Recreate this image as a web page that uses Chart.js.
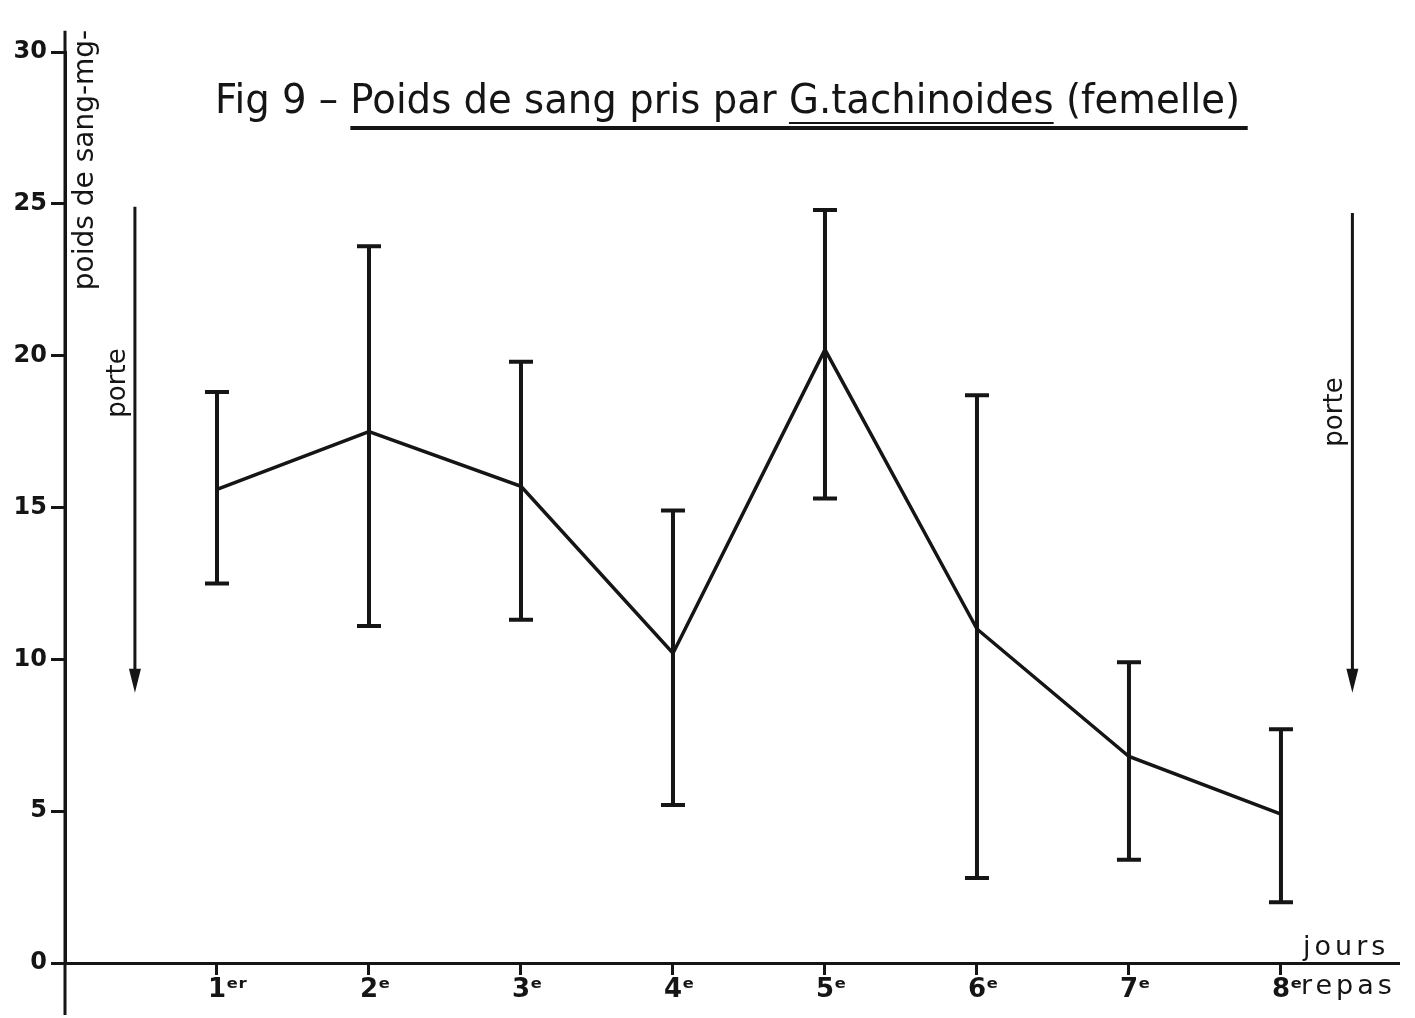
<!DOCTYPE html>
<html>
<head>
<meta charset="utf-8">
<title>Fig 9 - Poids de sang pris par G.tachinoides (femelle)</title>
<script src="https://cdn.jsdelivr.net/npm/chart.js@4"></script>
<style>
  html, body { margin: 0; padding: 0; background: #fff; }
  #wrap { width: 1415px; height: 1018px; position: relative; }
</style>
</head>
<body>
<div id="wrap"><canvas id="bloodChart"></canvas></div>
<script>
// feeds (repas) 1 to 8
const days = [1, 2, 3, 4, 5, 6, 7, 8];
const dayLabels = ['1ᵉʳ', '2ᵉ', '3ᵉ', '4ᵉ', '5ᵉ', '6ᵉ', '7ᵉ', '8ᵉ'];
// blood weight taken, mg: mean and ends of the range
const meanWeight = [15.6, 17.5, 15.7, 10.2, 20.2, 11.0, 6.8, 4.9];
const upperWeight = [18.8, 23.6, 19.8, 14.9, 24.8, 18.7, 9.9, 7.7];
const lowerWeight = [12.5, 11.1, 11.3, 5.2, 15.3, 2.8, 3.4, 2.0];
const yTicks = [0, 5, 10, 15, 20, 25, 30];
// "porte" (laying) arrows, before the 1st and after the 8th feed
const porteX = [0.46, 8.47];
const porteFrom = [24.9, 24.7];
const porteTo = [8.9, 8.9];

const ink = '#151515';
const FONT = '"DejaVu Sans", "Liberation Sans", sans-serif';

const titleParts = ['Fig 9 – ', 'Poids de sang pris par ', 'G.tachinoides', ' (femelle)'];

// error bars, arrows and the hand lettering
const drawingPlugin = {
    id: 'drawing',
    afterDraw(chart) {
        const { ctx, chartArea, scales: { x, y } } = chart;
        ctx.save();
        ctx.strokeStyle = ink;
        ctx.fillStyle = ink;

        // y axis line runs past the plot area
        ctx.lineWidth = 3;
        ctx.beginPath();
        ctx.moveTo(chartArea.left, y.getPixelForValue(30.7));
        ctx.lineTo(chartArea.left, chartArea.bottom + 52);
        ctx.stroke();

        // error bars
        ctx.lineWidth = 4;
        days.forEach((d, i) => {
            const px = x.getPixelForValue(d);
            const top = y.getPixelForValue(upperWeight[i]);
            const bot = y.getPixelForValue(lowerWeight[i]);
            ctx.beginPath();
            ctx.moveTo(px, top); ctx.lineTo(px, bot);
            ctx.moveTo(px - 12, top); ctx.lineTo(px + 12, top);
            ctx.moveTo(px - 12, bot); ctx.lineTo(px + 12, bot);
            ctx.stroke();
        });

        // porte arrows
        porteX.forEach((v, i) => {
            const px = x.getPixelForValue(v);
            const top = y.getPixelForValue(porteFrom[i]);
            const tip = y.getPixelForValue(porteTo[i]);
            ctx.lineWidth = 3;
            ctx.beginPath();
            ctx.moveTo(px, top); ctx.lineTo(px, tip - 12);
            ctx.stroke();
            ctx.beginPath();
            ctx.moveTo(px - 6, tip - 24);
            ctx.lineTo(px + 6, tip - 24);
            ctx.lineTo(px, tip);
            ctx.closePath();
            ctx.fill();
        });

        // porte labels
        ctx.font = '26px ' + FONT;
        ctx.textAlign = 'center';
        ctx.textBaseline = 'middle';
        [[118, 383], [1335, 412]].forEach(([tx, ty]) => {
            ctx.save();
            ctx.translate(tx, ty);
            ctx.rotate(-Math.PI / 2);
            ctx.fillText('porte', 0, 0);
            ctx.restore();
        });

        // y axis title
        ctx.save();
        ctx.font = '28px ' + FONT;
        ctx.translate(86, 160);
        ctx.rotate(-Math.PI / 2);
        ctx.fillText('poids de sang-mg-', 0, 0, 262);
        ctx.restore();

        // jours / repas
        ctx.font = '27px ' + FONT;
        ctx.letterSpacing = '4px';
        ctx.textAlign = 'left';
        ctx.textBaseline = 'alphabetic';
        ctx.fillText('jours', 1303, 955);
        ctx.fillText('repas', 1301, 994);
        ctx.letterSpacing = '0px';

        // title with underlines
        ctx.font = '40px ' + FONT;
        const full = titleParts.join('');
        const k = 1025 / ctx.measureText(full).width;
        const w = s => ctx.measureText(s).width;
        ctx.save();
        ctx.translate(215, 0);
        ctx.scale(k, 1);
        ctx.fillText(full, 0, 113);
        const uStart = w(titleParts[0]);
        const gStart = w(titleParts[0] + titleParts[1]);
        const gEnd = w(titleParts[0] + titleParts[1] + titleParts[2]);
        ctx.lineWidth = 4;
        ctx.beginPath();
        ctx.moveTo(uStart, 128); ctx.lineTo(w(full) + 8, 128);
        ctx.stroke();
        ctx.lineWidth = 2;
        ctx.beginPath();
        ctx.moveTo(gStart, 123); ctx.lineTo(gEnd, 123);
        ctx.stroke();
        ctx.restore();

        ctx.restore();
    }
};

const ctx = document.getElementById('bloodChart');
new Chart(ctx, {
    type: 'line',
    data: {
        datasets: [{
            label: 'Poids de sang (mg)',
            data: days.map((d, i) => ({ x: d, y: meanWeight[i] })),
            borderColor: ink,
            borderWidth: 3.5,
            pointRadius: 0,
            tension: 0,
            fill: false,
            clip: false
        }]
    },
    options: {
        responsive: true,
        maintainAspectRatio: false,
        animation: false,
        layout: { padding: { top: 52, right: 17, left: 0, bottom: 0 } },
        plugins: {
            legend: { display: false },
            tooltip: { enabled: false },
            title: { display: false }
        },
        scales: {
            x: {
                type: 'linear',
                min: 0,
                max: 8.77,
                afterBuildTicks: scale => { scale.ticks = days.map(v => ({ value: v })); },
                afterFit: scale => { scale.height = 55; },
                ticks: {
                    color: ink,
                    font: { family: FONT, size: 26, weight: 'bold' },
                    padding: 0,
                    align: 'start',
                    labelOffset: -9,
                    maxRotation: 0,
                    callback: value => dayLabels[days.indexOf(value)] || ''
                },
                grid: { drawOnChartArea: false, drawTicks: true, tickLength: 12, color: ink, lineWidth: 3 },
                border: { display: true, color: ink, width: 3 }
            },
            y: {
                min: 0,
                max: 30,
                afterBuildTicks: scale => { scale.ticks = yTicks.map(v => ({ value: v })); },
                afterFit: scale => { scale.width = 65; },
                ticks: {
                    color: ink,
                    font: { family: FONT, size: 24, weight: 'bold' },
                    padding: 4
                },
                grid: { drawOnChartArea: false, drawTicks: true, tickLength: 14, color: ink, lineWidth: 3 },
                border: { display: true, color: ink, width: 3 }
            }
        }
    },
    plugins: [drawingPlugin]
});
</script>
</body>
</html>
